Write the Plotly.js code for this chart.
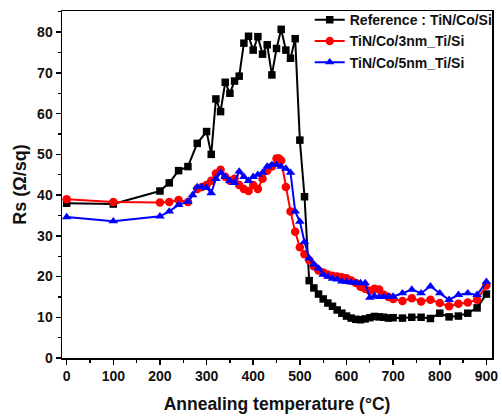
<!DOCTYPE html>
<html>
<head>
<meta charset="utf-8">
<script src="https://cdn.plot.ly/plotly-3.0.1.min.js"></script>
<style>html,body{margin:0;padding:0;background:#fff;}#chart{width:502px;height:417px;}</style>
</head>
<body>
<div id="chart"></div>
<script>
const refX = [0,100,200,220,240,260,280,300,310,320,330,340,350,360,370,380,390,400,410,420,430,440,450,460,470,480,490,500,510,520,530,540,550,560,570,580,590,600,610,620,630,640,650,660,670,680,690,700,720,740,760,780,800,820,840,860,880,900];
const refY = [38,37.8,41,43,46,47,52.7,55.6,50,63.6,60.5,67.7,65,68,69.2,77.3,79,75.6,78.9,74.6,76.9,69.5,76,80.7,75.6,73.6,78.4,53.5,39.6,19,17.2,15.7,14.5,13.5,12.7,11.8,11,10.3,9.8,9.5,9.4,9.6,9.9,10.2,10.1,10,9.8,9.9,9.8,10,10,9.7,11,10.1,10.3,11,12.3,15.7];

const ti3X = [0,100,200,220,240,260,280,290,300,310,320,330,340,350,360,370,380,390,400,410,420,430,440,450,455,460,470,480,490,500,510,520,530,540,550,560,570,580,590,600,610,620,630,640,650,660,670,680,690,700,720,740,760,780,800,820,840,860,880,900];
const ti3Y = [39,38.3,38.2,38.3,38.8,38.3,41.5,42,42.5,43.5,45.3,46.2,44.5,43.5,44,42.5,41.5,41,42.5,41.5,44,46,47,49,49,48.5,42,36,31,27.2,25.5,24,22.5,21.5,21,20.5,20.2,20,19.8,19.6,19,18.4,17.5,17,16.5,17,16.8,15.5,15,14.5,14,14.7,13.9,14.3,13.5,12.7,13.3,13.6,14.3,17.8];

const ti5X = [0,100,200,220,240,260,270,280,290,300,310,320,330,340,350,360,370,380,390,400,410,420,430,440,450,460,470,480,490,500,510,520,530,540,550,560,570,580,590,600,610,620,630,640,650,660,670,680,690,700,720,740,760,780,800,820,840,860,880,900];
const ti5Y = [34.6,33.6,34.8,36,37.6,38.4,40,42,42,41.8,40.5,44,45.5,44.5,43.5,43,45.8,44.5,43.5,44.5,45,45.5,47,47.4,47.4,47,46.5,45.5,36,33.5,28.5,24.5,23,22,20.5,20,19.5,19.3,18.8,18.7,18.6,18.5,18.4,18.4,14.8,15.2,15,15,15.1,15.1,15.9,16.8,15.9,17.6,15.9,14.3,15.5,15.9,15.5,18.7];

const names = ['Reference : TiN/Co/Si','TiN/Co/3nm_Ti/Si','TiN/Co/5nm_Ti/Si'];
const xTicks = [0,100,200,300,400,500,600,700,800,900];
const yTicks = [0,10,20,30,40,50,60,70,80];

const FONT = 'Liberation Sans, Arial, sans-serif';
const traces = [
  {x: refX, y: refY, name: names[0], mode: 'lines+markers', line: {color: '#000000', width: 2}, marker: {symbol: 'square', size: 7.5, color: '#000000'}},
  {x: ti3X, y: ti3Y, name: names[1], mode: 'lines+markers', line: {color: '#ff0000', width: 2}, marker: {symbol: 'circle', size: 8.5, color: '#ff0000'}},
  {x: ti5X, y: ti5Y, name: names[2], mode: 'lines+markers', line: {color: '#0000ff', width: 2}, marker: {symbol: 'triangle-up', size: 8.5, color: '#0000ff'}}
];

const axisCommon = {
  showgrid: false, zeroline: false, showline: true, linecolor: '#000', linewidth: 1.5,
  mirror: true, ticks: 'outside', ticklen: 5, tickwidth: 1.5, tickcolor: '#000',
  tickfont: {family: FONT, size: 14, color: '#111', weight: 'bold'}
};

const layout = {
  width: 502, height: 417,
  margin: {l: 62, r: 10, t: 11, b: 59, autoexpand: false},
  paper_bgcolor: '#fff', plot_bgcolor: '#fff',
  showlegend: true,
  legend: {xref: 'container', yref: 'container', x: 0.617, y: 0.99, xanchor: 'left', yanchor: 'top', bgcolor: 'rgba(0,0,0,0)',
    font: {family: FONT, size: 14, color: '#111', weight: 'bold'}, tracegroupgap: 0, itemwidth: 30},
  xaxis: Object.assign({}, axisCommon, {
    range: [-10, 912], tickvals: xTicks, ticktext: xTicks.map(String),
    minor: {ticks: 'outside', ticklen: 3, tickwidth: 1.2, tickcolor: '#000', dtick: 50, tick0: 0},
    title: {text: '<b>Annealing temperature (°C)</b>', font: {family: FONT, size: 17.5, color: '#111'}, standoff: 14}
  }),
  yaxis: Object.assign({}, axisCommon, {
    range: [0, 85.2], tickvals: yTicks, ticktext: yTicks.map(String),
    minor: {ticks: 'outside', ticklen: 3, tickwidth: 1.2, tickcolor: '#000', dtick: 5, tick0: 0},
    title: {text: '<b>Rs (Ω/sq)</b>', font: {family: FONT, size: 18, color: '#111'}, standoff: 6}
  })
};

Plotly.newPlot('chart', traces, layout, {displayModeBar: false, staticPlot: true});
</script>
</body>
</html>
